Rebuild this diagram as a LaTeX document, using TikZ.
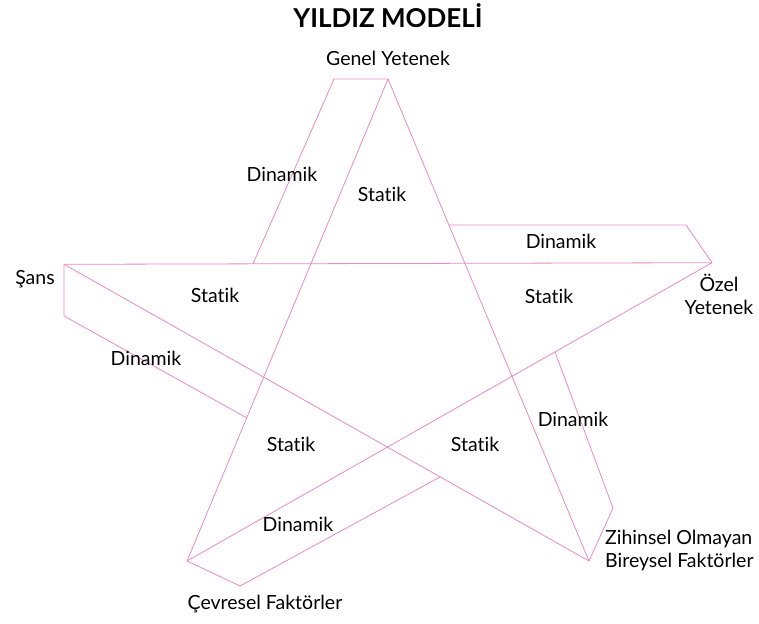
\documentclass[tikz,border=0pt]{standalone}
\usepackage{fontspec}
\setmainfont{Lato}[Ligatures=NoCommon]
\definecolor{starpink}{RGB}{230,140,195}
\tikzset{
  edge/.style={draw=starpink, line width=0.8pt},
  lbl/.style={font=\fontsize{19.5}{23}\selectfont, inner sep=0pt}
}
\begin{document}
\begin{tikzpicture}[x=1pt,y=-1pt]
  \useasboundingbox (0,0) rectangle (759,623);
  % star points
  \coordinate (top) at (388,79);
  \coordinate (right) at (712,262.7);
  \coordinate (bright) at (589,561);
  \coordinate (bleft) at (187,561);
  \coordinate (left) at (64,264.3);
  % ribbon points
  \coordinate (topa) at (334,79);
  \coordinate (topb) at (253,263.8);
  \coordinate (righta) at (686,225);
  \coordinate (rightb) at (449,225);
  \coordinate (brighta) at (613,508);
  \coordinate (brightb) at (555,352);
  \coordinate (blefta) at (240,586);
  \coordinate (bleftb) at (440,477);
  \coordinate (lefta) at (64,316);
  \coordinate (leftb) at (247,418);
  \begin{scope}[edge]
    \draw (top) to (bleft);
    \draw (top) to (bright);
    \draw (left) to (right);
    \draw (left) to (bright);
    \draw (right) to (bleft);
    \draw (top) -- (topa) -- (topb);
    \draw (right) -- (righta) -- (rightb);
    \draw (bright) -- (brighta) -- (brightb);
    \draw (bleft) -- (blefta) -- (bleftb);
    \draw (left) -- (lefta) -- (leftb);
  \end{scope}
  % labels
  \node[font=\fontsize{26}{30}\selectfont\bfseries] (title) at (388,16) {YILDIZ MODELİ};
  \node[lbl] (genel) at (388,58) {Genel Yetenek};
  \node[lbl, align=center] (ozel) at (719,294) {Özel\\Yetenek};
  \node[lbl, align=left, anchor=west] (zihin) at (605,550) {Zihinsel Olmayan\\Bireysel Faktörler};
  \node[lbl] (cevre) at (265,604) {Çevresel Faktörler};
  \node[lbl] (sans) at (35,279) {Şans};
  \node[lbl] (d1) at (282,174) {Dinamik};
  \node[lbl] (d2) at (561,241) {Dinamik};
  \node[lbl] (d3) at (573,419) {Dinamik};
  \node[lbl] (d4) at (298,524) {Dinamik};
  \node[lbl] (d5) at (146,358) {Dinamik};
  \node[lbl] (s1) at (382,194) {Statik};
  \node[lbl] (s2) at (549,296) {Statik};
  \node[lbl] (s3) at (475,444) {Statik};
  \node[lbl] (s4) at (291,444) {Statik};
  \node[lbl] (s5) at (215,295) {Statik};
\end{tikzpicture}
\end{document}
